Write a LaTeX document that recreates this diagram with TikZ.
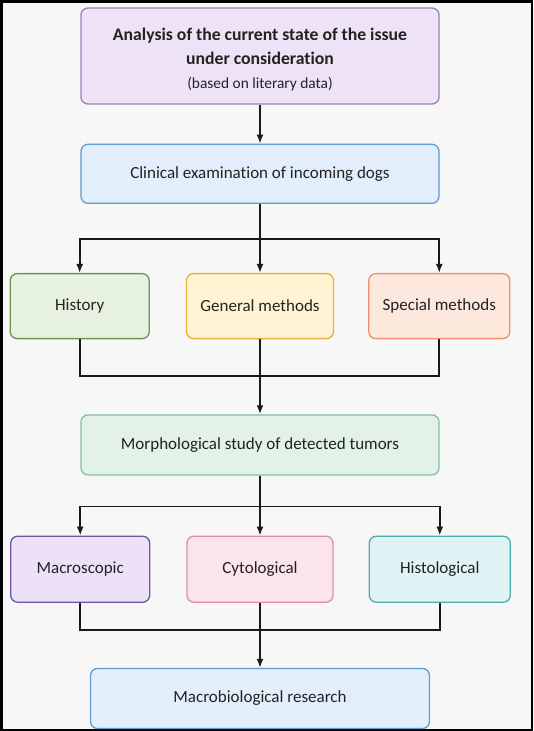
\documentclass[tikz,border=0pt]{standalone}
\usepackage{fontspec}
\setmainfont{Carlito}[Ligatures=NoCommon]
\usetikzlibrary{arrows.meta,positioning}

\definecolor{bg}{HTML}{F7F7F7}
\definecolor{txt}{HTML}{222222}
\definecolor{anaF}{HTML}{EEE3F6}\definecolor{anaD}{HTML}{9C80BA}
\definecolor{cliF}{HTML}{E2EFFA}\definecolor{cliD}{HTML}{5E9CD3}
\definecolor{hisF}{HTML}{E6F2DF}\definecolor{hisD}{HTML}{6B9553}
\definecolor{genF}{HTML}{FFF3D3}\definecolor{genD}{HTML}{E6B43A}
\definecolor{speF}{HTML}{FDE8DD}\definecolor{speD}{HTML}{EE8F72}
\definecolor{morF}{HTML}{E3F2E8}\definecolor{morD}{HTML}{85BF9E}
\definecolor{macF}{HTML}{ECE1F7}\definecolor{macD}{HTML}{6E55A3}
\definecolor{cytF}{HTML}{FCE4EC}\definecolor{cytD}{HTML}{DE8CA3}
\definecolor{hstF}{HTML}{E0F4F5}\definecolor{hstD}{HTML}{4DADAD}

\begin{document}
\begin{tikzpicture}[x=1pt,y=1pt,>={Latex[length=9pt,width=7pt]},node distance=36pt,
    font=\fontsize{17}{24}\selectfont]
  \tikzstyle{box}=[draw,rounded corners=7pt,line width=1.3pt,align=center,text=txt,inner sep=2pt]
  \tikzstyle{wide}=[box,minimum width=358pt,minimum height=60pt]
  \tikzstyle{small}=[box,minimum width=140pt,minimum height=65pt]
  \tikzstyle{link}=[draw=black!90,line width=1.8pt]
  % frame
  \path[fill=bg,draw=black,line width=2.5pt] (1.25,-1.25) rectangle (531.75,-729.75);
  \node[wide,fill=anaF,draw=anaD,minimum height=96pt] (ana) at (260,-56)
    {\fontsize{17.7}{24}\selectfont\bfseries\rule{0pt}{19pt}Analysis of the current state of the issue\\
     \fontsize{17.7}{24}\selectfont\bfseries under consideration\\
     {\fontsize{15.4}{24}\selectfont (based on literary data)}};
  \node[wide,fill=cliF,draw=cliD,minimum height=59pt,below=39pt of ana] (cli) {Clinical examination of incoming dogs};
  \node[small,fill=genF,draw=genD,minimum width=147pt,below=69pt of cli] (gen) {General methods};
  \node[small,fill=hisF,draw=hisD,minimum width=139pt,left=of gen] (his) {History};
  \node[small,fill=speF,draw=speD,minimum width=141pt,right=34pt of gen] (spe) {Special methods};
  \node[wide,fill=morF,draw=morD,below=75pt of gen] (mor) {Morphological study of detected tumors};
  \node[small,fill=cytF,draw=cytD,minimum width=146pt,minimum height=66pt,below=60pt of mor] (cyt) {Cytological};
  \node[small,fill=macF,draw=macD,minimum width=139pt,minimum height=66pt,left=36pt of cyt] (mac) {Macroscopic};
  \node[small,fill=hstF,draw=hstD,minimum width=141pt,minimum height=66pt,right=35pt of cyt] (hst) {Histological};
  \node[box,fill=cliF,draw=cliD,minimum width=339pt,minimum height=60pt,below=65pt of cyt] (mic) {Macrobiological research};
  % buses
  \coordinate (b1) at ([yshift=-35pt]cli.south);
  \coordinate (b2) at ([yshift=-37pt]gen.south);
  \coordinate (b3) at ([yshift=-31pt]mor.south);
  \coordinate (b4) at ([yshift=-27pt]cyt.south);
  % connectors
  \draw[link,->] (ana) -- (cli);
  \draw[link] (cli) -- (b1);
  \draw[link,->] (b1) -| (his);
  \draw[link,->] (b1) -- (gen);
  \draw[link,->] (b1) -| (spe);
  \draw[link] (his) |- (b2);
  \draw[link] (spe) |- (b2);
  \draw[link,->] (gen) -- (mor);
  \draw[link] (mor) -- (b3);
  \draw[link,->] (b3) -| (mac);
  \draw[link,->] (b3) -- (cyt);
  \draw[link,->] (b3) -| (hst);
  \draw[link] (mac) |- (b4);
  \draw[link] (hst) |- (b4);
  \draw[link,->] (cyt) -- (mic);
\end{tikzpicture}
\end{document}
